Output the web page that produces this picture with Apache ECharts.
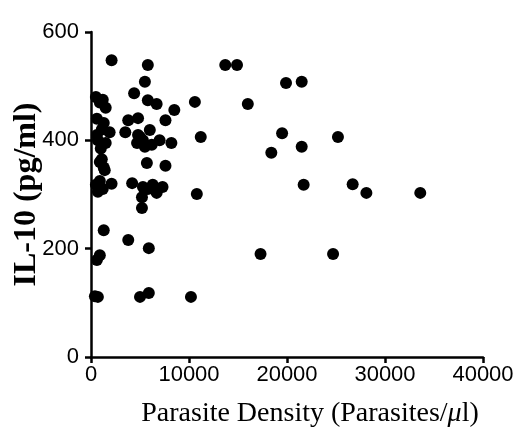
<!DOCTYPE html>
<html>
<head>
<meta charset="utf-8">
<script src="https://cdn.jsdelivr.net/npm/echarts@6/dist/echarts.min.js"></script>
<style>html,body{margin:0;padding:0;background:#fff}#c{width:516px;height:437px}</style>
</head>
<body>
<div id="c"></div>
<script>
// Parasite density (parasites/µl) and IL-10 (pg/ml)
const parasiteDensity = [
  500, 900, 1200, 600, 1100, 1900, 700, 1500, 900, 1400, 900, 2100, 700, 1200, 500, 1000, 1300, 600, 1500, 1300, 1100,
  1300, 900, 600, 700, 400, 2100,
  5800, 5500, 4400, 5800, 6700, 8500, 7600, 3800, 4800, 3500, 5000, 6000, 5500, 7000, 8200, 4700, 5300, 5700, 7600,
  4200, 5300, 6300, 7300, 6700, 5200, 5200, 5800, 4800, 6200, 3800, 5900, 5000, 5900, 10200,
  10600, 11200, 10800, 13700, 14900, 16000, 19900, 21500, 19500, 18400, 21500, 25200, 21700, 26700, 28100, 33600, 17300, 24700
];
const il10 = [
  480, 470, 475, 440, 420, 415, 400, 395, 360, 345, 325, 320, 305, 310, 318, 385, 432, 410, 460, 350, 365,
  234, 188, 179, 111, 112, 548,
  539, 508, 487, 474, 467, 456, 437, 437, 441, 415, 406, 419, 388, 400, 395, 395, 400, 358, 353,
  321, 314, 318, 314, 303, 295, 275, 310, 410, 392, 216, 201, 111, 118, 111,
  471, 406, 301, 539, 539, 467, 506, 508, 413, 377, 388, 406, 318, 319, 303, 303, 190, 190
];
const xTicks = {min: 0, max: 40000, step: 10000};
const yTicks = {min: 0, max: 600, step: 200};
const xTitle = 'Parasite Density (Parasites/{i|μ}l)';
const yTitle = 'IL-10 (pg/ml)';

const points = parasiteDensity.map((x, i) => [x, il10[i]]);
const chart = echarts.init(document.getElementById('c'), null, {renderer: 'canvas'});
const axisCommon = {
  axisLine: {show: true, onZero: false, lineStyle: {color: '#000', width: 2.5}},
  axisTick: {show: true, inside: false, length: 6, lineStyle: {color: '#000', width: 2.5}},
  axisLabel: {color: '#000', fontFamily: 'Liberation Sans, Arial, sans-serif', fontSize: 22, formatter: v => String(v)},
  splitLine: {show: false},
  nameMoveOverlap: false
};
chart.setOption({
  animation: false,
  backgroundColor: '#fff',
  grid: {left: 91, right: 33, top: 32, bottom: 80, containLabel: false, outerBoundsMode: 'none'},
  xAxis: Object.assign({}, axisCommon, {
    type: 'value', min: xTicks.min, max: xTicks.max, interval: xTicks.step,
    name: xTitle, nameLocation: 'middle', nameGap: 43,
    nameTextStyle: {color: '#000', fontFamily: 'Liberation Serif, Times New Roman, serif', fontSize: 28,
      padding: [0, 0, 0, 46],
      rich: {i: {fontStyle: 'italic', fontFamily: 'Liberation Serif, serif', fontSize: 28, color: '#000'}}},
    axisLabel: Object.assign({}, axisCommon.axisLabel, {margin: 7})
  }),
  yAxis: Object.assign({}, axisCommon, {
    type: 'value', min: yTicks.min, max: yTicks.max, interval: yTicks.step,
    name: yTitle, nameLocation: 'middle', nameGap: 48,
    nameTextStyle: {color: '#000', fontFamily: 'Liberation Serif, Times New Roman, serif', fontSize: 32, fontWeight: 'bold'},
    axisLabel: Object.assign({}, axisCommon.axisLabel, {margin: 12})
  }),
  series: [{
    type: 'scatter',
    data: points,
    symbol: 'circle',
    symbolSize: 12,
    itemStyle: {color: '#000', opacity: 1},
    clip: false
  }]
});
</script>
</body>
</html>
